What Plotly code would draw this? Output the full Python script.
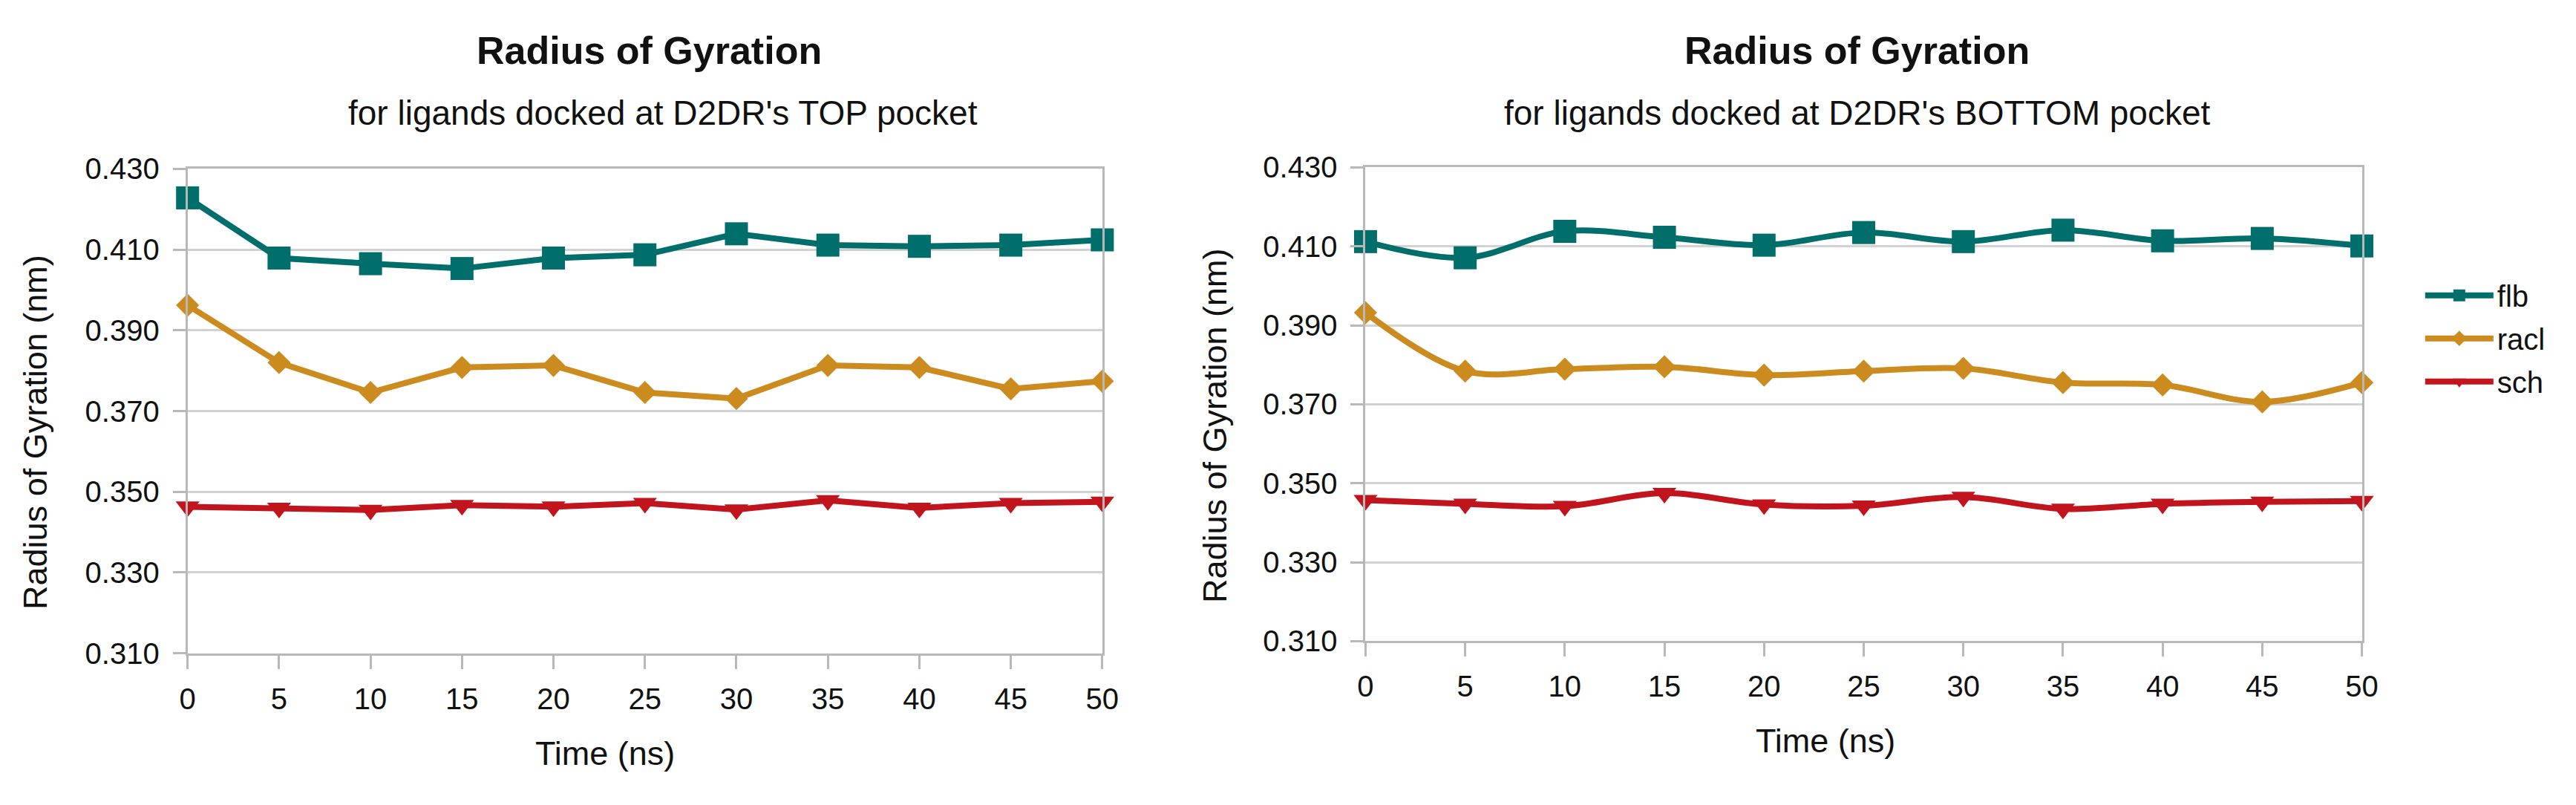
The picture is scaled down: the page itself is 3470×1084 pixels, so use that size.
import plotly.graph_objects as go

# ---------------- data ----------------
time_ns = [0, 5, 10, 15, 20, 25, 30, 35, 40, 45, 50]

top_flb = [0.4228, 0.4079, 0.4065, 0.4053, 0.4079, 0.4087, 0.4139, 0.4111, 0.4108, 0.4111, 0.4124]
top_racl = [0.3962, 0.3820, 0.3746, 0.3808, 0.3813, 0.3746, 0.3731, 0.3813, 0.3808, 0.3755, 0.3774]
top_sch = [0.3463, 0.3460, 0.3455, 0.3467, 0.3463, 0.3472, 0.3456, 0.3479, 0.3460, 0.3472, 0.3475]

bot_flb = [0.4112, 0.4071, 0.4138, 0.4123, 0.4103, 0.4135, 0.4112, 0.4141, 0.4114, 0.4120, 0.4101]
bot_racl = [0.3932, 0.3784, 0.3789, 0.3795, 0.3774, 0.3784, 0.3791, 0.3755, 0.3749, 0.3706, 0.3755]
bot_sch = [0.3457, 0.3448, 0.3442, 0.3475, 0.3446, 0.3443, 0.3465, 0.3435, 0.3448, 0.3453, 0.3455]

series_names = ["flb", "racl", "sch"]
y_ticks = [0.310, 0.330, 0.350, 0.370, 0.390, 0.410, 0.430]
x_ticks = [0, 5, 10, 15, 20, 25, 30, 35, 40, 45, 50]

main_title = "Radius of Gyration"
sub_top = "for ligands docked at D2DR's TOP pocket"
sub_bottom = "for ligands docked at D2DR's BOTTOM pocket"
x_title = "Time (ns)"
y_title = "Radius of Gyration (nm)"

# ---------------- style ----------------
W, H = 3470, 1084
FONT = "Liberation Sans, Arial, sans-serif"
colors = {"flb": "#006e6b", "racl": "#cc8b1e", "sch": "#c1141d"}
symbols = {"flb": "square", "racl": "diamond", "sch": "triangle-down"}
msizes = {"flb": 31, "racl": 24, "sch": 28}
GRID = "#d2d2d2"
AXIS = "#b8b8b8"


def px_x(p):
    return p / W


def px_y(p):
    return (H - p) / H


fig = go.Figure()

sets = [
    ("x", "y", [top_flb, top_racl, top_sch], "linear", False),
    ("x2", "y2", [bot_flb, bot_racl, bot_sch], "spline", True),
]
for xa, ya, vals, shape, show in sets:
    for name, v in zip(series_names, vals):
        fig.add_trace(go.Scatter(
            x=time_ns, y=v, name=name, xaxis=xa, yaxis=ya,
            mode="lines+markers", legendgroup=name,
            line=dict(color=colors[name], width=8, shape=shape),
            marker=dict(symbol=symbols[name], size=msizes[name], color=colors[name]),
            showlegend=show, cliponaxis=False,
        ))

axis_common_x = dict(
    range=[0, 50], tickvals=x_ticks, showgrid=False, zeroline=False,
    showline=True, linecolor=AXIS, linewidth=3, mirror=True,
    ticks="outside", ticklen=18, tickwidth=3, tickcolor=AXIS,
    tickfont=dict(family=FONT, size=40, color="#111111"),
    ticklabelstandoff=6,
)
axis_common_y = dict(
    range=[0.310, 0.430], tickvals=y_ticks, tickformat=".3f",
    showgrid=True, gridcolor=GRID, gridwidth=3, zeroline=False,
    showline=True, linecolor=AXIS, linewidth=3, mirror=True,
    ticks="outside", ticklen=17, tickwidth=3, tickcolor=AXIS,
    tickfont=dict(family=FONT, size=40, color="#111111"),
    ticklabelstandoff=10,
)

fig.update_layout(
    width=W, height=H,
    margin=dict(l=0, r=0, t=0, b=0),
    paper_bgcolor="white", plot_bgcolor="white",
    font=dict(family=FONT, color="#111111"),
    xaxis=dict(domain=[px_x(244), px_x(1488)], anchor="y", **axis_common_x),
    yaxis=dict(domain=[px_y(894), px_y(214)], anchor="x", **axis_common_y),
    xaxis2=dict(domain=[px_x(1846), px_x(3201)], anchor="y2", **axis_common_x),
    yaxis2=dict(domain=[px_y(877), px_y(212)], anchor="x2", **axis_common_y),
    legend=dict(
        x=px_x(3282), y=px_y(452), xanchor="left", yanchor="middle",
        font=dict(family=FONT, size=40, color="#111111"),
        itemwidth=92, tracegroupgap=3, bgcolor="rgba(0,0,0,0)",
    ),
    showlegend=True,
)

annos = [
    dict(text="<b>" + main_title + "</b>", x=px_x(872), y=px_y(48), size=52),
    dict(text=sub_top, x=px_x(890), y=px_y(136), size=46),
    dict(text="<b>" + main_title + "</b>", x=px_x(2514), y=px_y(48), size=52),
    dict(text=sub_bottom, x=px_x(2515), y=px_y(136), size=46),
    dict(text=x_title, x=px_x(812), y=px_y(1035), size=45),
    dict(text=x_title, x=px_x(2472), y=px_y(1017), size=45),
    dict(text=y_title, x=px_x(37), y=px_y(584), size=45, angle=-90),
    dict(text=y_title, x=px_x(1641), y=px_y(574), size=45, angle=-90),
]
for a in annos:
    fig.add_annotation(
        text=a["text"], x=a["x"], y=a["y"], xref="paper", yref="paper",
        xanchor="center", yanchor="middle", showarrow=False,
        textangle=a.get("angle", 0),
        font=dict(family=FONT, size=a["size"], color="#111111"),
    )

fig.write_html(
    "out.html",
    config={"displayModeBar": False},
    post_script="document.body.style.margin='0px';document.body.style.overflow='hidden';",
)
